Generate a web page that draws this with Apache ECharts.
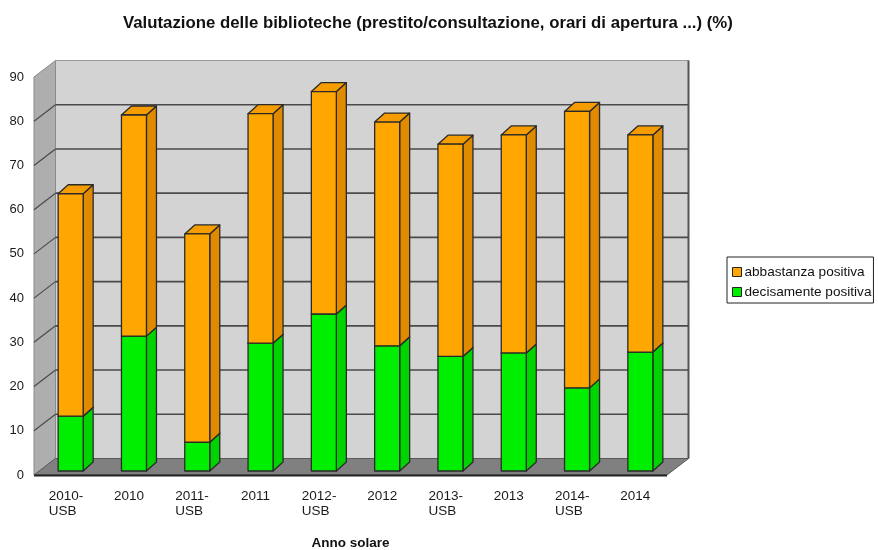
<!DOCTYPE html>
<html>
<head>
<meta charset="utf-8">
<script src="https://cdn.jsdelivr.net/npm/echarts@6/dist/echarts.min.js"></script>
<style>html,body{margin:0;padding:0;background:#fff}#c{width:878px;height:550px}</style>
</head>
<body>
<div id="c"></div>
<script>
const categories = ['2010-\nUSB','2010','2011-\nUSB','2011','2012-\nUSB','2012','2013-\nUSB','2013','2014-\nUSB','2014'];
const decisamente = [12.4, 30.5, 6.5, 28.9, 35.5, 28.3, 25.9, 26.7, 18.8, 26.9];
const abbastanza = [50.3, 50.0, 47.1, 51.9, 50.3, 50.6, 48.0, 49.3, 62.5, 49.1];
const yTicks = [0, 10, 20, 30, 40, 50, 60, 70, 80, 90];
const seriesNames = ['decisamente positiva', 'abbastanza positiva'];

const FONT = "'Liberation Sans', Arial, sans-serif";
// depth geometry (styling)
const WALL_DX = 21.5, WALL_DY = -16.5;
const BAR_OX = 5, BAR_OY = -4;
const BAR_DX = 10, BAR_DY = -9;

const colors = {
  green: {front: '#00ee00', side: '#00d400', top: '#00e000'},
  orange: {front: '#ffa600', side: '#e08a00', top: '#f59c00'}
};

const greenData = decisamente.map((v, i) => [i, 0, v]);
const orangeData = abbastanza.map((v, i) => [i, decisamente[i], decisamente[i] + v]);

function barRenderer(c) {
  return function (params, api) {
    const i = api.value(0), lo = api.value(1), hi = api.value(2);
    const p0 = api.coord([i, lo]), p1 = api.coord([i, hi]);
    const bw = api.size([1, 0])[0];
    const w = bw * 0.395;
    const x0 = p0[0] - w / 2 + BAR_OX;
    const yb = p0[1] + BAR_OY, yt = p1[1] + BAR_OY;
    const st = {stroke: '#2a2a2a', lineWidth: 1.3, lineJoin: 'round'};
    return {
      type: 'group',
      children: [
        {type: 'polygon', shape: {points: [[x0 + w, yt], [x0 + w + BAR_DX, yt + BAR_DY], [x0 + w + BAR_DX, yb + BAR_DY], [x0 + w, yb]]},
          style: Object.assign({fill: c.side}, st)},
        {type: 'polygon', shape: {points: [[x0, yt], [x0 + BAR_DX, yt + BAR_DY], [x0 + w + BAR_DX, yt + BAR_DY], [x0 + w, yt]]},
          style: Object.assign({fill: c.top}, st)},
        {type: 'rect', shape: {x: x0, y: yt, width: w, height: yb - yt},
          style: Object.assign({fill: c.front}, st)}
      ]
    };
  };
}

function wallRenderer(params, api) {
  const bw = api.size([1, 0])[0];
  const n = categories.length;
  const xl = api.coord([0, 0])[0] - bw / 2;
  const xr = api.coord([n - 1, 0])[0] + bw / 2;
  const y0 = api.coord([0, 0])[1];
  const yT = api.coord([0, yTicks[yTicks.length - 1]])[1];
  const children = [];
  children.push({type: 'rect', shape: {x: xl + WALL_DX, y: yT + WALL_DY, width: xr - xl, height: y0 - yT},
    style: {fill: '#d3d3d3', stroke: '#9a9a9a', lineWidth: 1}});
  children.push({type: 'line', shape: {x1: xr + WALL_DX, y1: yT + WALL_DY, x2: xr + WALL_DX, y2: y0 + WALL_DY},
    style: {stroke: '#555', lineWidth: 2}});
  children.push({type: 'polygon', shape: {points: [[xl, yT], [xl + WALL_DX, yT + WALL_DY], [xl + WALL_DX, y0 + WALL_DY], [xl, y0]]},
    style: {fill: '#aeaeae', stroke: '#8a8a8a', lineWidth: 1}});
  yTicks.forEach(v => {
    if (v === 0 || v === yTicks[yTicks.length - 1]) return;
    const y = api.coord([0, v])[1];
    children.push({type: 'line', shape: {x1: xl + WALL_DX, y1: y + WALL_DY, x2: xr + WALL_DX, y2: y + WALL_DY},
      style: {stroke: '#4a4a4a', lineWidth: 1.6}});
    children.push({type: 'line', shape: {x1: xl, y1: y, x2: xl + WALL_DX, y2: y + WALL_DY},
      style: {stroke: '#4a4a4a', lineWidth: 1.2}});
  });
  children.push({type: 'polygon', shape: {points: [[xl, y0], [xr, y0], [xr + WALL_DX, y0 + WALL_DY], [xl + WALL_DX, y0 + WALL_DY]]},
    style: {fill: '#808080', stroke: '#5a5a5a', lineWidth: 1}});
  children.push({type: 'line', shape: {x1: xl, y1: y0 + 0.5, x2: xr, y2: y0 + 0.5},
    style: {stroke: '#222', lineWidth: 2}});
  return {type: 'group', children: children};
}

const chart = echarts.init(document.getElementById('c'), null, {renderer: 'canvas'});
chart.setOption({
  animation: false,
  backgroundColor: '#ffffff',
  title: {
    text: 'Valutazione delle biblioteche (prestito/consultazione, orari di apertura ...) (%)',
    left: 118, top: 10,
    textStyle: {fontFamily: FONT, fontSize: 16.8, fontWeight: 'bold', color: '#111'}
  },
  legend: {
    orient: 'vertical', left: 727, top: 257,
    data: [
      {name: seriesNames[1], itemStyle: {color: colors.orange.front}},
      {name: seriesNames[0], itemStyle: {color: colors.green.front}}
    ],
    icon: 'rect', itemWidth: 9, itemHeight: 9, itemGap: 4,
    borderColor: '#222', borderWidth: 1, padding: [7, 2, 3, 5],
    itemStyle: {borderColor: '#222', borderWidth: 1},
    textStyle: {fontFamily: FONT, fontSize: 13.6, color: '#111', lineHeight: 16, padding: [0, 0, 0, -2]},
    selectedMode: false
  },
  grid: {left: 34, right: 211, top: 77, bottom: 75, containLabel: false, outerBoundsMode: 'none'},
  xAxis: {
    type: 'category', data: categories,
    axisLine: {show: false}, axisTick: {show: false}, splitLine: {show: false},
    axisLabel: {
      interval: 0, margin: 14, color: '#1a1a1a', fontFamily: FONT, fontSize: 13.5, lineHeight: 15,
      formatter: function (v) {
        if (v.indexOf('\n') >= 0) {
          return v.split('\n').map(s => '{a|' + s + '}').join('\n');
        }
        return v;
      },
      rich: {a: {width: 34, align: 'left', fontFamily: FONT, fontSize: 13.5, lineHeight: 15, color: '#1a1a1a'}}
    },
    name: 'Anno solare', nameLocation: 'middle', nameGap: 61,
    nameTextStyle: {fontFamily: FONT, fontSize: 13.5, fontWeight: 'bold', color: '#111'}
  },
  yAxis: {
    type: 'value', min: 0, max: 90, interval: 10,
    axisLine: {show: false}, axisTick: {show: false}, splitLine: {show: false},
    axisLabel: {margin: 10, color: '#1a1a1a', fontFamily: FONT, fontSize: 13}
  },
  series: [
    {type: 'custom', name: 'walls', data: [[0, 0]], renderItem: wallRenderer, z: 1, silent: true,
      encode: {x: 0, y: 1}},
    {type: 'custom', name: seriesNames[0], data: greenData, renderItem: barRenderer(colors.green), z: 2,
      itemStyle: {color: colors.green.front}, encode: {x: 0, y: 2}},
    {type: 'custom', name: seriesNames[1], data: orangeData, renderItem: barRenderer(colors.orange), z: 3,
      itemStyle: {color: colors.orange.front}, encode: {x: 0, y: 2}}
  ]
});
</script>
</body>
</html>
